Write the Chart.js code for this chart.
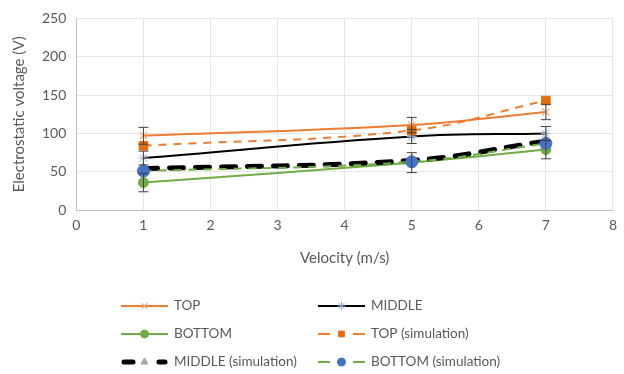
<!DOCTYPE html>
<html>
<head>
<meta charset="utf-8">
<script src="https://cdn.jsdelivr.net/npm/chart.js@4.4.0/dist/chart.umd.min.js"></script>
<style>
  body { margin: 0; background: #fff; }
  #wrap { width: 624px; height: 374px; }
</style>
</head>
<body>
<div id="wrap"><canvas id="grafico" width="624" height="374"></canvas></div>
<script>
const velocidades = [1, 5, 7];
const topo = [97, 111, 128];
const meio = [68, 96, 100];
const fundo = [36, 62, 79];
const topoSim = [84, 104, 143];
const meioSim = [54, 65, 90];
const fundoSim = [51, 63, 87];
const erroTopo = [11, 10, 10];
const erroMeio = [9, 9, 9];
const erroFundo = [12, 13, 12];
const nomes = ['TOP', 'MIDDLE', 'BOTTOM', 'TOP (simulation)', 'MIDDLE (simulation)', 'BOTTOM (simulation)'];

const pontos = (ys) => velocidades.map((v, i) => ({ x: v, y: ys[i] }));
const fonte = 'Lato, "Open Sans", sans-serif';
const cinza = '#595959';

// error bars drawn through the scales
const barrasErro = {
    id: 'barrasErro',
    afterDatasetsDraw(chart) {
        const { ctx, scales: { x, y } } = chart;
        ctx.save();
        ctx.strokeStyle = '#404040';
        ctx.lineWidth = 1;
        chart.data.datasets.forEach((ds) => {
            if (!ds.erros) return;
            ds.data.forEach((p, i) => {
                const px = x.getPixelForValue(p.x);
                const y1 = y.getPixelForValue(p.y + ds.erros[i]);
                const y2 = y.getPixelForValue(p.y - ds.erros[i]);
                ctx.beginPath();
                ctx.moveTo(px, y1); ctx.lineTo(px, y2);
                ctx.moveTo(px - 5, y1); ctx.lineTo(px + 5, y1);
                ctx.moveTo(px - 5, y2); ctx.lineTo(px + 5, y2);
                ctx.stroke();
            });
        });
        ctx.restore();
    }
};

// legend in two columns under the chart
const legenda = {
    id: 'legenda',
    afterDraw(chart) {
        const ctx = chart.ctx;
        const colunas = [121, 318];
        const linhas = [306, 334, 362];
        ctx.save();
        chart.data.datasets.forEach((ds, i) => {
            const x0 = colunas[i % 2];
            const y0 = linhas[Math.floor(i / 2)];
            ctx.strokeStyle = ds.borderColor;
            ctx.lineWidth = ds.borderWidth;
            ctx.lineCap = ds.borderCapStyle || 'butt';
            ctx.setLineDash([]);
            ctx.beginPath();
            if (ds.borderDash) {
                const a = ds.borderWidth > 3 ? 3 : 0;
                ctx.moveTo(x0 + a, y0); ctx.lineTo(x0 + 12, y0);
                ctx.moveTo(x0 + 35 + a, y0); ctx.lineTo(x0 + 47 - a, y0);
            } else {
                ctx.moveTo(x0, y0); ctx.lineTo(x0 + 47, y0);
            }
            ctx.stroke();
            ctx.fillStyle = ds.pointBackgroundColor;
            ctx.strokeStyle = ds.pointBorderColor;
            ctx.lineWidth = ds.pointBorderWidth;
            ctx.lineCap = 'butt';
            Chart.helpers.drawPoint(ctx, {
                pointStyle: ds.pointStyle,
                radius: 4,
                borderWidth: ds.pointBorderWidth,
                rotation: 0
            }, x0 + 23.5, y0);
            ctx.fillStyle = cinza;
            ctx.font = '13.5px ' + fonte;
            ctx.textBaseline = 'middle';
            ctx.fillText(ds.label, x0 + 53, y0);
        });
        ctx.restore();
    }
};

const datasets = [
    {
        label: nomes[0], data: pontos(topo), erros: erroTopo,
        borderColor: '#ED7D31', borderWidth: 2, tension: 0.4,
        pointStyle: 'crossRot', pointRadius: 5, pointBorderWidth: 1.5,
        pointBackgroundColor: '#FFC000', pointBorderColor: '#F4B183'
    },
    {
        label: nomes[1], data: pontos(meio), erros: erroMeio,
        borderColor: '#000000', borderWidth: 2, tension: 0.4,
        pointStyle: 'star', pointRadius: 5, pointBorderWidth: 1,
        pointBackgroundColor: '#9DC3E6', pointBorderColor: '#8FAADC'
    },
    {
        label: nomes[2], data: pontos(fundo), erros: erroFundo,
        borderColor: '#70AD47', borderWidth: 2, tension: 0.4,
        pointStyle: 'circle', pointRadius: 5, pointBorderWidth: 1,
        pointBackgroundColor: '#70AD47', pointBorderColor: '#70AD47'
    },
    {
        label: nomes[3], data: pontos(topoSim),
        borderColor: '#ED7D31', borderWidth: 2, borderDash: [8, 7], tension: 0.4,
        pointStyle: 'rect', pointRadius: 6, pointBorderWidth: 1,
        pointBackgroundColor: '#E46C0A', pointBorderColor: '#E46C0A'
    },
    {
        label: nomes[4], data: pontos(meioSim),
        borderColor: '#000000', borderWidth: 5, borderDash: [14, 12], borderCapStyle: 'round', tension: 0.4,
        pointStyle: 'triangle', pointRadius: 6, pointBorderWidth: 1,
        pointBackgroundColor: '#A5A5A5', pointBorderColor: '#A5A5A5'
    },
    {
        label: nomes[5], data: pontos(fundoSim),
        borderColor: '#70AD47', borderWidth: 2, borderDash: [8, 7], tension: 0.4,
        pointStyle: 'circle', pointRadius: 6, pointBorderWidth: 1,
        pointBackgroundColor: '#4472C4', pointBorderColor: '#4472C4'
    }
].map((ds, i) => ({ ...ds, order: 5 - i }));

const eixoFonte = { size: 14, family: fonte };

new Chart(document.getElementById('grafico'), {
    type: 'line',
    data: { datasets: datasets },
    options: {
        responsive: false,
        animation: false,
        layout: { padding: { top: 14, right: 4, left: 6, bottom: 103 } },
        scales: {
            x: {
                type: 'linear', min: 0, max: 8,
                grid: { color: '#E6E6E6', drawTicks: false },
                border: { color: '#BFBFBF' },
                ticks: { stepSize: 1, color: cinza, font: eixoFonte, padding: 7 },
                title: { display: true, text: 'Velocity (m/s)', color: cinza, font: { size: 15, family: fonte }, padding: { top: 8 } }
            },
            y: {
                min: 0, max: 250,
                grid: { color: '#E6E6E6', drawTicks: false },
                border: { color: '#BFBFBF' },
                ticks: { stepSize: 50, color: cinza, font: eixoFonte, padding: 10 },
                title: { display: true, text: 'Electrostatic voltage (V)', color: cinza, font: { size: 15, family: fonte }, padding: { bottom: 4 } }
            }
        },
        plugins: {
            legend: { display: false },
            tooltip: { enabled: false }
        }
    },
    plugins: [barrasErro, legenda]
});
</script>
</body>
</html>
